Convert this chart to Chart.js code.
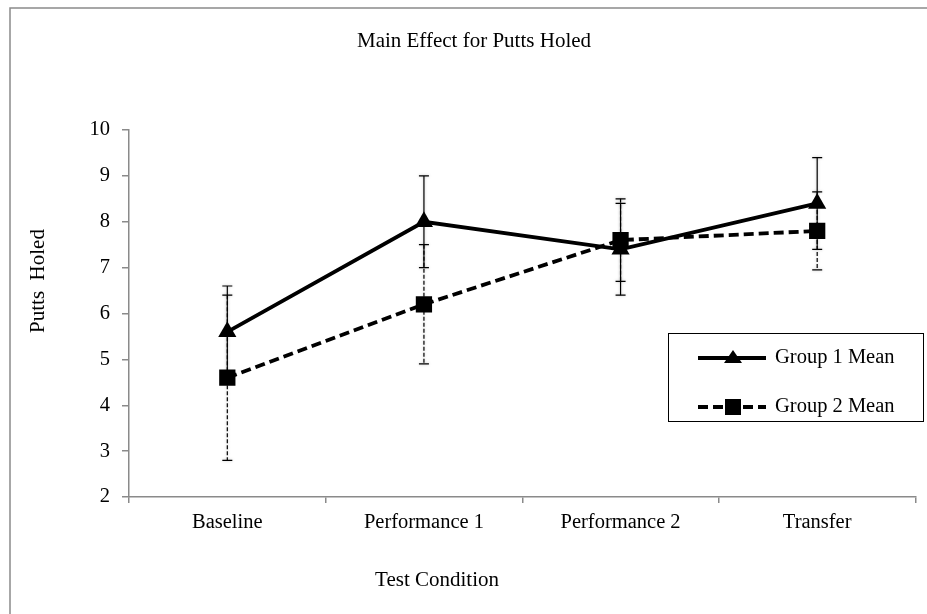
<!DOCTYPE html>
<html>
<head>
<meta charset="utf-8">
<script src="https://cdn.jsdelivr.net/npm/chart.js"></script>
<style>
  body { margin: 0; background: #fff; }
  canvas { display: block; }
</style>
</head>
<body>
<canvas id="chart" width="927" height="614"></canvas>
<script>
// data
const conditions = ['Baseline', 'Performance 1', 'Performance 2', 'Transfer']
const group1Mean = [5.6, 8.0, 7.4, 8.4]
const group2Mean = [4.6, 6.2, 7.6, 7.8]
// error bar half-lengths
const group1Err = [1.0, 1.0, 1.0, 1.0]
const group2Err = [1.8, 1.3, 0.9, 0.85]
const yTicks = [2, 3, 4, 5, 6, 7, 8, 9, 10]

const serif = "'Liberation Serif', 'Times New Roman', serif"
const axisGray = '#8a8a8a'

// draws error bars for both groups, behind the lines
const errorBars = {
    id: 'errorBars',
    beforeDatasetsDraw(chart) {
        const {ctx, scales: {x, y}} = chart
        const groups = [
            {mean: group1Mean, err: group1Err, dash: []},
            {mean: group2Mean, err: group2Err, dash: [4, 2]}
        ]
        ctx.save()
        ctx.strokeStyle = '#000'
        ctx.lineWidth = 1.2
        ctx.shadowColor = 'rgba(0,0,0,0.25)'
        ctx.shadowBlur = 3
        groups.forEach(g => {
            g.mean.forEach((m, i) => {
                const px = x.getPixelForValue(i)
                const top = y.getPixelForValue(m + g.err[i])
                const bot = y.getPixelForValue(m - g.err[i])
                ctx.setLineDash(g.dash)
                ctx.beginPath()
                ctx.moveTo(px, top)
                ctx.lineTo(px, bot)
                ctx.stroke()
                ctx.setLineDash([])
                ctx.beginPath()
                ctx.moveTo(px - 5, top); ctx.lineTo(px + 5, top)
                ctx.moveTo(px - 5, bot); ctx.lineTo(px + 5, bot)
                ctx.stroke()
            })
        })
        ctx.restore()
    }
}

// frame, titles and the boxed legend
const decorations = {
    id: 'decorations',
    afterDraw(chart) {
        const ctx = chart.ctx
        ctx.save()

        ctx.strokeStyle = axisGray
        ctx.lineWidth = 1.5
        ctx.strokeRect(10, 8, 1000, 1000)

        ctx.fillStyle = '#000'
        ctx.textBaseline = 'middle'
        ctx.textAlign = 'center'
        ctx.font = '21px ' + serif
        ctx.fillText('Main Effect for Putts Holed', 474, 41)
        ctx.fillText('Test Condition', 437, 580)

        ctx.save()
        ctx.translate(38, 281)
        ctx.rotate(-Math.PI / 2)
        ctx.fillText('Putts  Holed', 0, 0)
        ctx.restore()

        // legend
        ctx.strokeStyle = '#000'
        ctx.lineWidth = 1
        ctx.strokeRect(668.5, 333.5, 255, 88)

        const rows = [
            {label: 'Group 1 Mean', y: 358, dash: [], marker: 'triangle'},
            {label: 'Group 2 Mean', y: 407, dash: [10, 5], marker: 'rect'}
        ]
        rows.forEach(r => {
            ctx.setLineDash(r.dash)
            ctx.lineWidth = 4
            ctx.beginPath()
            ctx.moveTo(698, r.y)
            ctx.lineTo(766, r.y)
            ctx.stroke()
            ctx.setLineDash([])
            ctx.beginPath()
            if (r.marker === 'triangle') {
                ctx.moveTo(733, r.y - 8)
                ctx.lineTo(742, r.y + 5)
                ctx.lineTo(724, r.y + 5)
                ctx.closePath()
            } else {
                ctx.rect(725, r.y - 8, 16, 16)
            }
            ctx.fill()
            ctx.textAlign = 'left'
            ctx.font = '20.5px ' + serif
            ctx.fillText(r.label, 775, r.y)
        })

        ctx.restore()
    }
}

new Chart(document.getElementById('chart'), {
    type: 'line',
    data: {
        labels: conditions,
        datasets: [
            {
                label: 'Group 1 Mean',
                data: group1Mean,
                borderColor: '#000',
                backgroundColor: '#000',
                borderWidth: 3.8,
                pointStyle: 'triangle',
                pointRadius: 10.5,
                pointBorderWidth: 0,
                tension: 0
            },
            {
                label: 'Group 2 Mean',
                data: group2Mean,
                borderColor: '#000',
                backgroundColor: '#000',
                borderWidth: 3.8,
                borderDash: [10, 5],
                pointStyle: 'rect',
                pointRadius: 11.5,
                pointBorderWidth: 0,
                tension: 0
            }
        ]
    },
    options: {
        responsive: false,
        animation: false,
        layout: {padding: {left: 0, top: 130, right: 10, bottom: 0}},
        plugins: {
            legend: {display: false},
            tooltip: {enabled: false}
        },
        scales: {
            x: {
                offset: true,
                grid: {offset: true, drawOnChartArea: false, tickLength: 6, color: axisGray, lineWidth: 1.5},
                border: {color: axisGray, width: 1.5},
                ticks: {color: '#000', padding: 7, maxRotation: 0, font: {family: serif, size: 20.5}},
                afterFit: s => { s.height = 117 }
            },
            y: {
                min: yTicks[0],
                max: yTicks[yTicks.length - 1],
                afterBuildTicks: s => { s.ticks = yTicks.map(v => ({value: v})) },
                grid: {drawOnChartArea: false, tickLength: 7, color: axisGray, lineWidth: 1.5},
                border: {color: axisGray, width: 1.5},
                ticks: {color: '#000', padding: 12, font: {family: serif, size: 20.5}},
                afterFit: s => { s.width = 129 }
            }
        }
    },
    plugins: [errorBars, decorations]
})
</script>
</body>
</html>
